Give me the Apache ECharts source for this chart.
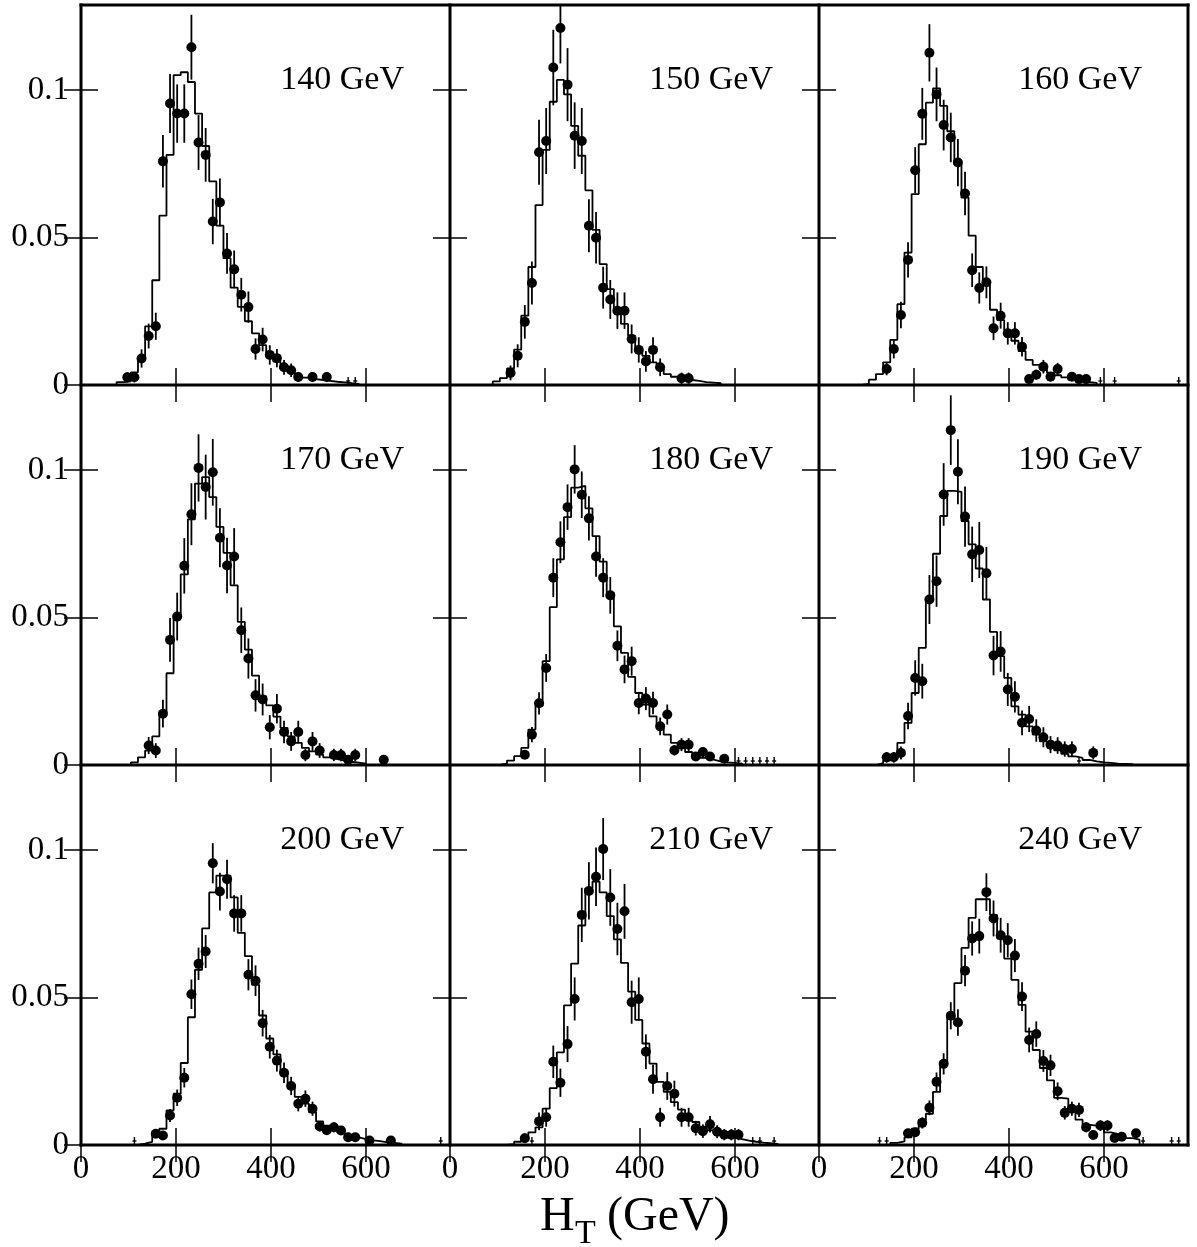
<!DOCTYPE html>
<html>
<head>
<meta charset="utf-8">
<script src="https://cdn.jsdelivr.net/npm/echarts@6/dist/echarts.min.js"></script>
<style>
html,body{margin:0;padding:0;background:#fff;}
#chart{width:1197px;height:1247px;}
</style>
</head>
<body>
<div id="chart"></div>
<script>
// ---------------- DATA ----------------
const BIN_WIDTH = 15;          // GeV
const X_MAX = 777;
const Y_MAX = 0.1288;
const xTicks = [0, 200, 400, 600];
const yTicks = [0, 0.05, 0.1];
const panelLabels = ['140 GeV','150 GeV','160 GeV','170 GeV','180 GeV','190 GeV','200 GeV','210 GeV','240 GeV'];

// histogram (Monte Carlo) : first bin index + bin contents
const hist140Start = 5;
const hist140 = [0.001,0.0012,0.0043,0.0095,0.0199,0.0355,0.0574,0.078,0.105,0.106,0.1027,0.092,0.081,0.069,0.054,0.043,0.033,0.0265,0.0216,0.0175,0.0135,0.0096,0.0079,0.0056,0.0043,0.0032,0.0025,0.002,0.0017,0.0014,0.0011,0.0009,0.0006,0.0004];
const hist150Start = 6;
const hist150 = [0.0012,0.0023,0.0056,0.012,0.0235,0.040,0.061,0.0797,0.096,0.1034,0.0985,0.0878,0.0777,0.066,0.0526,0.041,0.0325,0.025,0.0207,0.0167,0.0122,0.0099,0.0077,0.0054,0.0037,0.0028,0.002,0.0017,0.0014,0.001,0.0008,0.0006];
const hist160Start = 6;
const hist160 = [0.0004,0.0018,0.0037,0.0077,0.0153,0.0274,0.0449,0.0647,0.0816,0.0957,0.1005,0.0946,0.086,0.0748,0.0635,0.0506,0.040,0.035,0.0255,0.022,0.0185,0.015,0.0115,0.0085,0.0068,0.0053,0.0042,0.0033,0.0026,0.0018,0.0013,0.001,0.0007];
const hist170Start = 7;
const hist170 = [0.0009,0.0026,0.0049,0.0097,0.0176,0.0311,0.0499,0.0646,0.0833,0.0954,0.0976,0.0908,0.0807,0.0719,0.0609,0.0485,0.0391,0.0303,0.0233,0.0202,0.0164,0.0126,0.0097,0.0075,0.0058,0.0046,0.0035,0.0026,0.002,0.0015,0.0011,0.0008,0.0005];
const hist180Start = 7;
const hist180 = [0.0005,0.0015,0.003,0.0058,0.012,0.02,0.0352,0.0535,0.0697,0.084,0.094,0.0946,0.087,0.0776,0.0689,0.0584,0.047,0.038,0.0299,0.0244,0.0205,0.0165,0.0137,0.0103,0.0075,0.0058,0.0044,0.0033,0.0024,0.0018,0.0012,0.0009,0.0007,0.0005];
const hist190Start = 8;
const hist190 = [0.0006,0.0015,0.0033,0.0075,0.0143,0.0244,0.0397,0.0567,0.0716,0.0844,0.0929,0.0926,0.0827,0.0748,0.0666,0.0561,0.0451,0.0369,0.0295,0.0199,0.0171,0.0131,0.0103,0.008,0.0063,0.005,0.0038,0.0029,0.0024,0.0017,0.0012,0.0009,0.0007,0.0005,0.0004,0.0003];
const hist200Start = 8;
const hist200 = [0.0005,0.0011,0.0038,0.0055,0.0117,0.0174,0.0278,0.0433,0.0594,0.0734,0.0856,0.0913,0.0913,0.0839,0.0719,0.064,0.0543,0.0439,0.0361,0.0307,0.0248,0.0205,0.0163,0.014,0.0111,0.008,0.0066,0.0052,0.0043,0.0034,0.0026,0.002,0.0016,0.0013,0.0009,0.0007,0.0005];
const hist210Start = 8;
const hist210 = [0.0003,0.0011,0.0026,0.0043,0.006,0.0123,0.0193,0.0314,0.0473,0.0615,0.0744,0.087,0.0893,0.0856,0.0776,0.0697,0.0617,0.052,0.0424,0.0344,0.0276,0.0214,0.018,0.0145,0.012,0.0095,0.0078,0.0062,0.005,0.004,0.0032,0.0025,0.002,0.0015,0.0011,0.0008,0.0006,0.0004];
const hist240Start = 10;
const hist240 = [0.0007,0.0012,0.0026,0.0055,0.0086,0.0106,0.018,0.0274,0.043,0.0549,0.0668,0.077,0.0833,0.0833,0.078,0.07,0.0632,0.056,0.0475,0.0384,0.0322,0.0261,0.0219,0.016,0.0157,0.0123,0.0086,0.0068,0.0066,0.0066,0.0043,0.0037,0.003,0.0023,0.0018];

// data points : first bin index, values (null = empty bin), errors
const pts140Start = 6;
const pts140 = [0.0026,0.0026,0.009,0.0166,0.0199,0.0758,0.0954,0.092,0.092,0.1145,0.0822,0.078,0.0554,0.0619,0.0446,0.0392,0.0306,0.0264,0.0122,0.0154,0.0102,0.0091,0.006,0.005,0.0027,null,0.0027,null,0.0027];
const err140 = [0.0017,0.0017,0.0031,0.0042,0.0046,0.0089,0.010,0.0099,0.0099,0.011,0.0093,0.0091,0.0077,0.0081,0.0069,0.0064,0.0057,0.0053,0.0036,0.004,0.0033,0.0031,0.0025,0.0023,0.0017,null,0.0017,null,0.0017];
const marks140 = [37, 38];

const pts150Start = 8;
const pts150 = [0.0041,0.0099,0.0214,0.0346,0.0789,0.0827,0.1076,0.121,0.1018,0.0845,0.0827,0.054,0.0499,0.033,0.029,0.0252,0.0252,0.0156,0.0119,0.008,0.0119,0.006,null,null,0.0023,0.0023];
const err150 = [0.0025,0.0039,0.0057,0.0073,0.011,0.0112,0.0128,0.012,0.0124,0.0113,0.0112,0.009,0.0087,0.0071,0.0066,0.0062,0.0062,0.0049,0.0043,0.0035,0.0043,0.003,null,null,0.0019,0.0019];
const marks150 = [];

const pts160Start = 9;
const pts160 = [0.0054,0.0122,0.0237,0.0424,0.0728,0.0919,0.1126,0.0985,0.0881,0.0839,0.0754,0.0649,0.0389,0.0329,0.0348,0.0192,0.0235,0.0175,0.0175,0.013,0.002,0.0035,0.0062,0.0028,0.0054,null,0.0028,0.002,0.002];
const err160 = [0.0021,0.0032,0.0045,0.006,0.0078,0.0088,0.0097,0.0091,0.0086,0.0084,0.008,0.0074,0.0057,0.0053,0.0054,0.004,0.0044,0.0038,0.0038,0.0033,0.0013,0.0017,0.0023,0.0015,0.0021,null,0.0015,0.0013,0.0013];
const marks160 = [39, 41, 50];

const pts170Start = 9;
const pts170 = [0.0066,0.0049,0.0174,0.0424,0.0503,0.0675,0.085,0.1007,0.0942,0.0992,0.077,0.0676,0.0707,0.0457,0.0361,0.0236,0.0222,0.0128,0.0191,0.0112,0.008,0.0112,0.0034,0.008,0.0049,null,0.0034,0.0034,0.0018,0.0034,null,null,null,0.0018];
const err170 = [0.0029,0.0025,0.0047,0.0074,0.0081,0.0094,0.0105,0.0114,0.011,0.0113,0.01,0.0094,0.0096,0.0077,0.0068,0.0055,0.0054,0.0041,0.005,0.0038,0.0032,0.0038,0.0021,0.0032,0.0025,null,0.0021,0.0021,0.0015,0.0021,null,null,null,0.0015];
const marks170 = [];

const pts180Start = 10;
const pts180 = [0.0035,0.0103,0.0209,0.0329,0.0635,0.0755,0.0874,0.1002,0.0916,0.0836,0.0707,0.0635,0.0575,0.0404,0.0324,0.0352,0.021,0.0225,0.021,0.0131,0.0171,0.005,0.0069,0.0069,0.0029,0.0044,0.0029,null,0.0021];
const err180 = [0.0015,0.0026,0.0038,0.0047,0.0066,0.0071,0.0077,0.0082,0.0079,0.0075,0.0069,0.0066,0.0062,0.0052,0.0047,0.0049,0.0038,0.0039,0.0038,0.003,0.0034,0.0018,0.0022,0.0022,0.0014,0.0017,0.0014,null,0.0012];
const marks180 = [40, 41, 42, 43, 44, 45];

const pts190Start = 9;
const pts190 = [0.0026,0.0026,0.0041,0.0166,0.0295,0.0284,0.0561,0.0623,0.0917,0.1135,0.0994,0.0842,0.0714,0.0729,0.065,0.0371,0.0385,0.0256,0.0231,0.0143,0.0156,0.0117,0.0094,0.0069,0.0066,0.0054,0.0054,null,null,0.0041];
const err190 = [0.0018,0.0018,0.0022,0.0045,0.006,0.0059,0.0083,0.0087,0.0106,0.0118,0.011,0.0102,0.0094,0.0095,0.0089,0.0067,0.0069,0.0056,0.0053,0.0042,0.0044,0.0038,0.0034,0.0029,0.0028,0.0026,0.0026,null,null,0.0022];
const marks190 = [36];

const pts200Start = 10;
const pts200 = [0.0038,0.0032,0.01,0.016,0.0228,0.0511,0.0614,0.0656,0.0955,0.0859,0.0901,0.0785,0.0785,0.0577,0.0557,0.0413,0.0333,0.0286,0.0245,0.02,0.014,0.0157,0.0123,0.0063,0.005,0.006,0.0049,0.0026,0.0026,null,0.0015,null,null,0.0015];
const err200 = [0.0014,0.0012,0.0022,0.0028,0.0033,0.005,0.0055,0.0056,0.0068,0.0064,0.0066,0.0062,0.0062,0.0053,0.0052,0.0045,0.004,0.0037,0.0035,0.0031,0.0026,0.0028,0.0024,0.0017,0.0016,0.0017,0.0015,0.0011,0.0011,null,0.0009,null,null,0.0009];
const marks200 = [7, 50];

const pts210Start = 10;
const pts210 = [0.0023,null,0.008,0.0094,0.0282,0.0211,0.0342,0.0495,0.078,0.0861,0.0909,0.1003,0.0839,0.0732,0.0792,0.0484,0.0495,0.0316,0.0223,0.0094,0.02,0.0174,0.0094,0.0094,0.0057,0.0047,0.007,0.0045,0.0035,0.0035,0.0035];
const err210 = [0.0016,null,0.003,0.0032,0.0055,0.0048,0.0061,0.0073,0.0092,0.0097,0.0099,0.0105,0.0096,0.0089,0.0093,0.0073,0.0073,0.0059,0.0049,0.0032,0.0047,0.0044,0.0032,0.0032,0.0025,0.0023,0.0028,0.0022,0.0019,0.0019,0.0019];
const marks210 = [11, 42, 43, 45];

const pts240Start = 12;
const pts240 = [0.004,0.0043,0.0075,0.0126,0.0214,0.0275,0.0438,0.0415,0.0591,0.07,0.0708,0.0857,0.0768,0.0711,0.0694,0.0642,0.0503,0.0356,0.0376,0.0285,0.027,0.0182,0.0109,0.0123,0.0119,0.006,0.0034,0.0066,0.0066,0.0024,0.0028,null,0.004];
const err240 = [0.0014,0.0014,0.0019,0.0025,0.0032,0.0036,0.0046,0.0045,0.0053,0.0058,0.0059,0.0064,0.0061,0.0059,0.0058,0.0056,0.0049,0.0042,0.0043,0.0037,0.0036,0.003,0.0023,0.0024,0.0024,0.0017,0.0013,0.0018,0.0018,0.0011,0.0012,null,0.0014];
const marks240 = [8, 9, 45, 49, 50];

const axisTitle = ['H', 'T', '(GeV)'];

// ---------------- BUILD ----------------
const panels = [
  [hist140Start, hist140, pts140Start, pts140, err140, marks140],
  [hist150Start, hist150, pts150Start, pts150, err150, marks150],
  [hist160Start, hist160, pts160Start, pts160, err160, marks160],
  [hist170Start, hist170, pts170Start, pts170, err170, marks170],
  [hist180Start, hist180, pts180Start, pts180, err180, marks180],
  [hist190Start, hist190, pts190Start, pts190, err190, marks190],
  [hist200Start, hist200, pts200Start, pts200, err200, marks200],
  [hist210Start, hist210, pts210Start, pts210, err210, marks210],
  [hist240Start, hist240, pts240Start, pts240, err240, marks240]
];

const FONT = 'Liberation Serif';
const gridLefts = [81, 450, 819];
const gridTops = [5, 385, 765];
const GW = 369, GH = 380;

const grid = [], xAxis = [], yAxis = [], series = [], graphic = [];
const tickStyle = {color:'#000', width:1.5};

panels.forEach((p, i) => {
  const row = Math.floor(i / 3), col = i % 3;
  grid.push({left: gridLefts[col], top: gridTops[row], width: GW, height: GH, show: false});
  const xBase = {gridIndex: i, type: 'value', min: 0, max: X_MAX, interval: 200,
    axisLine: {show: false}, splitLine: {show: false},
    axisTick: {inside: true, length: 17, lineStyle: tickStyle, customValues: xTicks}};
  xAxis.push(Object.assign({}, xBase, {position: 'bottom',
    axisLabel: {show: row === 2, customValues: xTicks, fontFamily: FONT, fontSize: 33, color: '#000', margin: 8}}));
  xAxis.push(Object.assign({}, xBase, {position: 'top', axisLabel: {show: false}}));
  const yBase = {gridIndex: i, type: 'value', min: 0, max: Y_MAX, interval: 0.05,
    axisLine: {show: false}, splitLine: {show: false},
    axisTick: {inside: true, length: 17, lineStyle: tickStyle, customValues: yTicks}};
  yAxis.push(Object.assign({}, yBase, {position: 'left',
    axisLabel: {show: col === 0, customValues: yTicks, fontFamily: FONT, fontSize: 33, color: '#000', margin: 12}}));
  yAxis.push(Object.assign({}, yBase, {position: 'right', axisLabel: {show: false}}));

  const [hs, hv, ps, pv, pe, mk] = p;
  const xi = 2 * i, yi = 2 * i;
  // histogram as step line over bin edges
  const hdata = [[hs * BIN_WIDTH, 0]];
  hv.forEach((v, j) => hdata.push([(hs + j) * BIN_WIDTH, v]));
  hdata.push([(hs + hv.length) * BIN_WIDTH, 0]);
  series.push({type: 'line', xAxisIndex: xi, yAxisIndex: yi, data: hdata, step: 'end',
    symbol: 'none', lineStyle: {color: '#000', width: 1.8}, z: 2, animation: false, silent: true});

  const pdata = [];
  pv.forEach((v, j) => { if (v !== null) pdata.push([(ps + j) * BIN_WIDTH + BIN_WIDTH / 2, v, pe[j]]); });
  series.push({type: 'custom', xAxisIndex: xi, yAxisIndex: yi, data: pdata, clip: true, z: 3,
    animation: false, silent: true,
    renderItem: (params, api) => {
      const x = api.value(0), y = api.value(1), e = api.value(2);
      const a = api.coord([x, Math.max(0, y - e)]);
      const b = api.coord([x, y + e]);
      return {type: 'line', shape: {x1: a[0], y1: a[1], x2: b[0], y2: b[1]},
        style: {stroke: '#000', lineWidth: 1.8}};
    }});
  series.push({type: 'scatter', xAxisIndex: xi, yAxisIndex: yi, data: pdata.map(d => [d[0], d[1]]),
    symbol: 'circle', symbolSize: 10, itemStyle: {color: '#000', opacity: 1}, z: 4, animation: false, silent: true});

  const mdata = mk.map(k => [k * BIN_WIDTH + BIN_WIDTH / 2, 0]);
  series.push({type: 'custom', xAxisIndex: xi, yAxisIndex: yi, data: mdata, clip: false, z: 3,
    animation: false, silent: true,
    renderItem: (params, api) => {
      const c = api.coord([api.value(0), 0]);
      return {type: 'group', children: [
        {type: 'line', shape: {x1: c[0], y1: c[1] - 1, x2: c[0], y2: c[1] - 8}, style: {stroke: '#000', lineWidth: 1.4}},
        {type: 'line', shape: {x1: c[0] - 2, y1: c[1] - 4, x2: c[0] + 2, y2: c[1] - 4}, style: {stroke: '#000', lineWidth: 1.4}}
      ]};
    }});

  graphic.push({type: 'text', x: gridLefts[col] + GW - 46, y: gridTops[row] + 75.5,
    style: {text: panelLabels[i], font: '34px "' + FONT + '"', fill: '#000', align: 'right', verticalAlign: 'middle'}});
});

// panel frames (thick lines)
const frameL = gridLefts[0], frameR = gridLefts[2] + GW, frameT = gridTops[0], frameB = gridTops[2] + GH;
const frameLines = [];
[gridLefts[0], gridLefts[1], gridLefts[2], frameR].forEach(x => frameLines.push([x, frameT, x, frameB]));
[gridTops[0], gridTops[1], gridTops[2], frameB].forEach(y => frameLines.push([frameL, y, frameR, y]));
frameLines.forEach(l => graphic.push({type: 'line', z: 100, silent: true,
  shape: {x1: l[0], y1: l[1], x2: l[2], y2: l[3]}, style: {stroke: '#000', lineWidth: 3, lineCap: 'square'}}));

graphic.push({type: 'text', x: 540, y: 1217.5,
  style: {text: axisTitle[0], font: '48px "' + FONT + '"', fill: '#000', align: 'left', verticalAlign: 'middle'}});
graphic.push({type: 'text', x: 575, y: 1234.5,
  style: {text: axisTitle[1], font: '34px "' + FONT + '"', fill: '#000', align: 'left', verticalAlign: 'middle'}});
graphic.push({type: 'text', x: 607, y: 1217.5,
  style: {text: axisTitle[2], font: '48px "' + FONT + '"', fill: '#000', align: 'left', verticalAlign: 'middle'}});

const chart = echarts.init(document.getElementById('chart'), null, {renderer: 'canvas'});
chart.setOption({backgroundColor: '#fff', animation: false, grid, xAxis, yAxis, series, graphic});
</script>
</body>
</html>
